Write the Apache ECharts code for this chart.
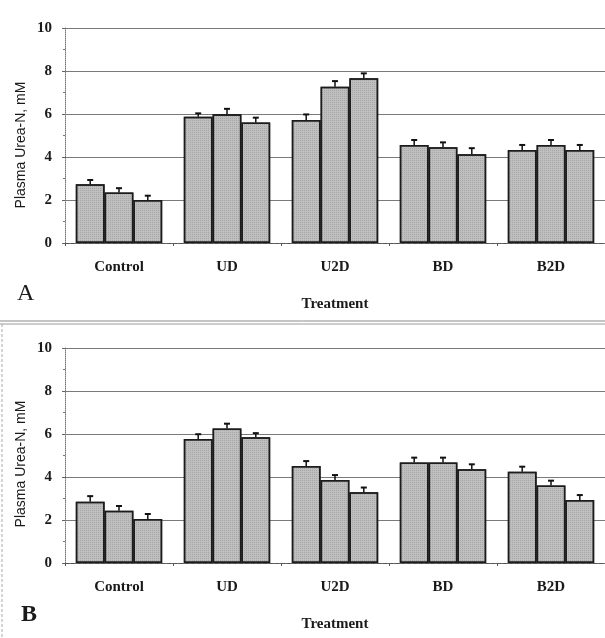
<!DOCTYPE html>
<html>
<head>
<meta charset="utf-8">
<script src="https://cdn.jsdelivr.net/npm/echarts@6/dist/echarts.min.js"></script>
<style>
  html, body { margin: 0; padding: 0; background: #fff; }
  #chart { width: 605px; height: 638px; }
</style>
</head>
<body>
<div id="chart"></div>
<script>
// treatments on the x axis
const categories = ['Control', 'UD', 'U2D', 'BD', 'B2D'];
const yTicks = [0, 2, 4, 6, 8, 10];
const yName = 'Plasma Urea-N, mM';

// panel A, three bars per treatment
const aBar1 = [2.73, 5.87, 5.72, 4.56, 4.33];
const aBar2 = [2.35, 5.99, 7.27, 4.45, 4.56];
const aBar3 = [2.00, 5.60, 7.66, 4.13, 4.33];
const aErr1 = [0.20, 0.16, 0.26, 0.23, 0.23];
const aErr2 = [0.20, 0.25, 0.26, 0.23, 0.23];
const aErr3 = [0.20, 0.23, 0.23, 0.28, 0.23];

// panel B
const bBar1 = [2.85, 5.77, 4.51, 4.67, 4.25];
const bBar2 = [2.43, 6.26, 3.86, 4.67, 3.60];
const bBar3 = [2.05, 5.85, 3.29, 4.36, 2.93];
const bErr1 = [0.26, 0.22, 0.23, 0.23, 0.23];
const bErr2 = [0.22, 0.22, 0.23, 0.23, 0.23];
const bErr3 = [0.23, 0.19, 0.22, 0.23, 0.23];

const serif = 'Liberation Serif';
const gapRatio = 0.2; // barCategoryGap

const barStyle = {
  color: '#bfbfbf',
  borderColor: '#1c1c1c',
  borderWidth: 1.5,
  decal: {
    symbol: 'rect',
    symbolSize: 1,
    dashArrayX: [1, 1],
    dashArrayY: [1, 1],
    color: 'rgba(90,90,90,0.25)'
  }
};

function barSeries(data, axis) {
  return {
    type: 'bar',
    xAxisIndex: axis,
    yAxisIndex: axis,
    data: data,
    barGap: 0,
    barCategoryGap: '20%',
    itemStyle: barStyle,
    silent: true
  };
}

function errSeries(vals, errs, slot, axis) {
  return {
    type: 'custom',
    xAxisIndex: axis,
    yAxisIndex: axis,
    silent: true,
    z: 5,
    data: vals.map((v, i) => [i, v, v + errs[i]]),
    renderItem: function (params, api) {
      const band = api.size([1, 0])[0];
      const bw = band * (1 - gapRatio) / 3;
      const base = api.coord([api.value(0), api.value(1)]);
      const top = api.coord([api.value(0), api.value(2)]);
      const x = base[0] + (slot - 1) * bw;
      const st = { stroke: '#111', lineWidth: 1.5 };
      return {
        type: 'group',
        children: [
          { type: 'line', shape: { x1: x, y1: base[1], x2: x, y2: top[1] }, style: st },
          { type: 'line', shape: { x1: x - 3, y1: top[1], x2: x + 3, y2: top[1] }, style: { stroke: '#111', lineWidth: 2 } }
        ]
      };
    }
  };
}

function xAx(grid) {
  return {
    type: 'category',
    gridIndex: grid,
    data: categories,
    axisLine: { lineStyle: { color: '#555', width: 1, type: 'dashed' } },
    axisTick: { show: true, length: 3, lineStyle: { color: '#555' } },
    axisLabel: { margin: 17, color: '#1a1a1a', fontFamily: serif, fontWeight: 'bold', fontSize: 15 },
    name: 'Treatment',
    nameLocation: 'middle',
    nameGap: 54,
    nameTextStyle: { color: '#1a1a1a', fontFamily: serif, fontWeight: 'bold', fontSize: 15 }
  };
}

function yAx(grid) {
  return {
    type: 'value',
    gridIndex: grid,
    min: yTicks[0],
    max: yTicks[yTicks.length - 1],
    interval: 2,
    axisLine: { show: true, lineStyle: { color: '#777', type: 'dotted' } },
    axisTick: { show: true, length: 3, lineStyle: { color: '#666' } },
    minorTick: { show: true, splitNumber: 2, length: 2, lineStyle: { color: '#777' } },
    splitLine: { show: true, lineStyle: { color: '#7a7a7a', width: 1 } },
    axisLabel: { margin: 13, color: '#1a1a1a', fontFamily: serif, fontWeight: 'bold', fontSize: 15 }
  };
}

function yTitle(cy) {
  return {
    type: 'text', x: 21, y: cy, rotation: Math.PI / 2,
    style: { text: yName, font: '14px "Liberation Sans"', fill: '#1a1a1a', align: 'center', verticalAlign: 'middle' }
  };
}

const chart = echarts.init(document.getElementById('chart'));
chart.setOption({
  backgroundColor: '#fff',
  animation: false,
  grid: [
    { left: 65, top: 28, width: 542, height: 215 },
    { left: 65, top: 348, width: 542, height: 215 }
  ],
  xAxis: [xAx(0), xAx(1)],
  yAxis: [yAx(0), yAx(1)],
  series: [
    barSeries(aBar1, 0), barSeries(aBar2, 0), barSeries(aBar3, 0),
    barSeries(bBar1, 1), barSeries(bBar2, 1), barSeries(bBar3, 1),
    errSeries(aBar1, aErr1, 0, 0), errSeries(aBar2, aErr2, 1, 0), errSeries(aBar3, aErr3, 2, 0),
    errSeries(bBar1, bErr1, 0, 1), errSeries(bBar2, bErr2, 1, 1), errSeries(bBar3, bErr3, 2, 1)
  ],
  graphic: [
    yTitle(145),
    yTitle(464),
    { type: 'text', left: 17, top: 282, style: { text: 'A', font: '24px "Liberation Serif"', fill: '#1a1a1a' } },
    { type: 'text', left: 21, top: 603, style: { text: 'B', font: 'bold 24px "Liberation Serif"', fill: '#1a1a1a' } },
    { type: 'line', shape: { x1: 0, y1: 321, x2: 605, y2: 321 }, style: { stroke: '#8a8a8a', lineWidth: 1 } },
    { type: 'line', shape: { x1: 0, y1: 324, x2: 605, y2: 324 }, style: { stroke: '#9a9a9a', lineWidth: 1 } },
    { type: 'line', shape: { x1: 2, y1: 324, x2: 2, y2: 638 }, style: { stroke: '#aaa', lineWidth: 1, lineDash: [3, 2] } }
  ]
});
</script>
</body>
</html>
